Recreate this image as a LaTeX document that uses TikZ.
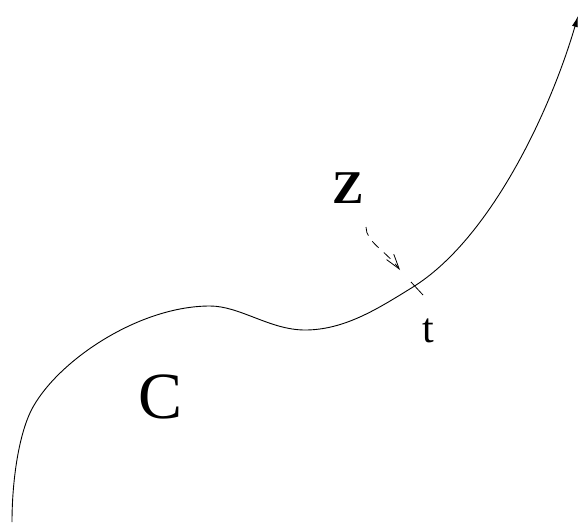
\documentclass[tikz,border=0pt]{standalone}
\usepackage{fontspec}
\setmainfont{Liberation Serif}
\usetikzlibrary{arrows.meta}
\begin{document}
\begin{tikzpicture}[x=1pt,y=-1pt,
  curveline/.style={line width=0.9pt,line join=round},
  lbl/.style={anchor=base,inner sep=0pt},
  guide/.style={line width=0.8pt,dash pattern=on 9pt off 7pt,-{Straight Barb[length=15pt,width=9pt,line width=0.8pt]}}]
\useasboundingbox (0,0) rectangle (579,523);
\coordinate (p0) at (12,522);
\coordinate (p1) at (33,407);
\coordinate (p2) at (210,306);
\coordinate (p3) at (305,330);
\coordinate (p4) at (413,287);
\coordinate (p5) at (578,16);
\draw[curveline,-{Latex[length=11pt,width=6pt]}]
  (p0) .. controls (12,480) and (19,432) .. (p1)
       .. controls (60,359) and (140,306) .. (p2)
       .. controls (240,306) and (270,330) .. (p3)
       .. controls (345,330) and (379,308) .. (p4)
       .. controls (490,239) and (550,112) .. (p5);
\node[lbl,font=\fontsize{47}{56}\selectfont\bfseries] (Z) at (348,203) {Z};
\node[lbl,font=\fontsize{66}{78}\selectfont] (C) at (161,418) {C};
\node[lbl,font=\fontsize{42}{50}\selectfont] (t) at (428,342) {t};
\coordinate (s) at (366,227);
\coordinate (e) at (400,270);
\coordinate (ta) at (411,282);
\coordinate (tb) at (423,295);
\draw[guide] (s) .. controls (366,242) and (385,250) .. (e);
\draw[line width=0.8pt] (ta) -- (tb);
\end{tikzpicture}
\end{document}
